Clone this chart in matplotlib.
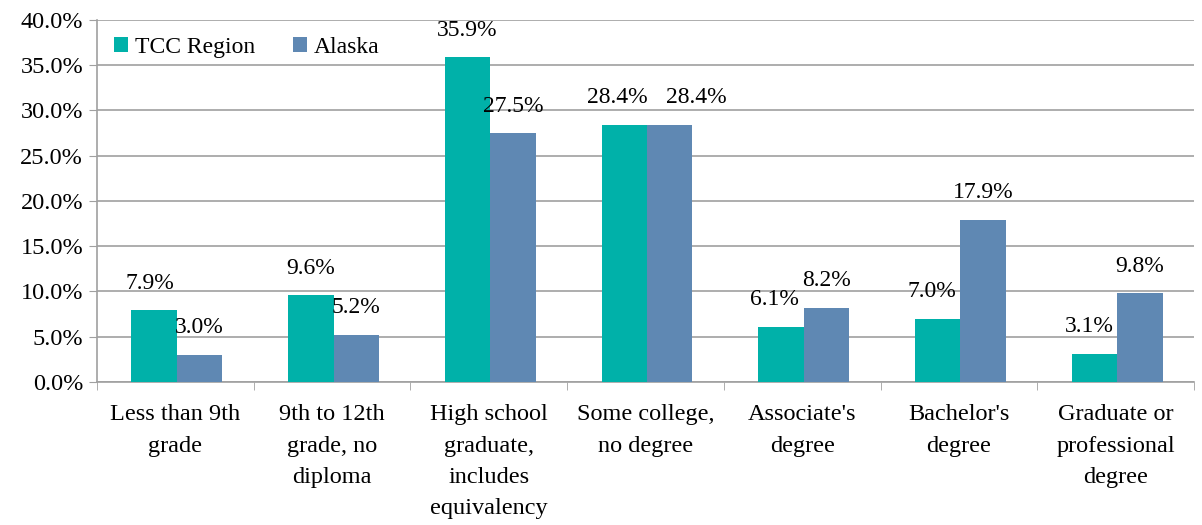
import numpy as np
import matplotlib.pyplot as plt
from matplotlib.ticker import FuncFormatter, MultipleLocator

plt.rcParams['font.family'] = ['Liberation Serif', 'DejaVu Serif']

categories = ["Less than 9th\ngrade", "9th to 12th\ngrade, no\ndiploma",
              "High school\ngraduate,\nincludes\nequivalency", "Some college,\nno degree",
              "Associate's\ndegree", "Bachelor's\ndegree", "Graduate or\nprofessional\ndegree"]
tcc = [7.9, 9.6, 35.9, 28.4, 6.1, 7.0, 3.1]
alaska = [3.0, 5.2, 27.5, 28.4, 8.2, 17.9, 9.8]

teal = "#00B1A9"
blue = "#5F88B3"
grid_c = "#A0A0A0"

# small horizontal nudges (points) so neighbouring labels don't collide
nudge_tcc = [-3, 0, 0, -5, -5, -4, -4]
nudge_ak = [0, 0, 0, 19, 0, 0, 0]

fig = plt.figure(figsize=(12.02, 5.25), dpi=100)
ax = fig.add_axes([0.0807, 0.2724, 0.9126, 0.6895])

x = np.arange(len(categories))
w = 0.29
b1 = ax.bar(x - w / 2 + 0.01, tcc, w, color=teal, label="TCC Region", zorder=3)
b2 = ax.bar(x + w / 2 + 0.01, alaska, w, color=blue, label="Alaska", zorder=3)

for bars, vals, nud in [(b1, tcc, nudge_tcc), (b2, alaska, nudge_ak)]:
    for r, v, n in zip(bars, vals, nud):
        ax.annotate("%.1f%%" % v, (r.get_x() + r.get_width() / 2, v),
                    xytext=(n, 19.5), textcoords="offset points",
                    ha="center", va="center", fontsize=17, zorder=4)

ax.set_xlim(-0.5, len(categories) - 0.5)
ax.set_ylim(0, 40)
ax.yaxis.set_major_locator(MultipleLocator(5))
ax.yaxis.set_major_formatter(FuncFormatter(lambda v, p: "%.1f%%" % v))
ax.grid(axis="y", color=grid_c, linewidth=1.2, zorder=0)

ax.set_xticks(x)
ax.set_xticklabels(categories, fontsize=17.5, linespacing=1.65, va="top")
ax.set_xticks(np.arange(-0.5, len(categories)), minor=True)
ax.tick_params(axis="x", which="major", length=0, pad=16)
ax.tick_params(axis="x", which="minor", length=6, color=grid_c, direction="out")
ax.tick_params(axis="y", labelsize=17.5, length=6, color=grid_c, direction="out", pad=4)

for s in ["top", "right"]:
    ax.spines[s].set_visible(False)
for s in ["left", "bottom"]:
    ax.spines[s].set_color(grid_c)
    ax.spines[s].set_linewidth(1.2)

ax.legend(loc="upper left", bbox_to_anchor=(0.0, 1.0), ncol=2, frameon=False,
          fontsize=17, handlelength=0.6, handleheight=0.6, handletextpad=0.3,
          columnspacing=1.6, borderaxespad=0.3)

fig.savefig("out.png", dpi=100)
